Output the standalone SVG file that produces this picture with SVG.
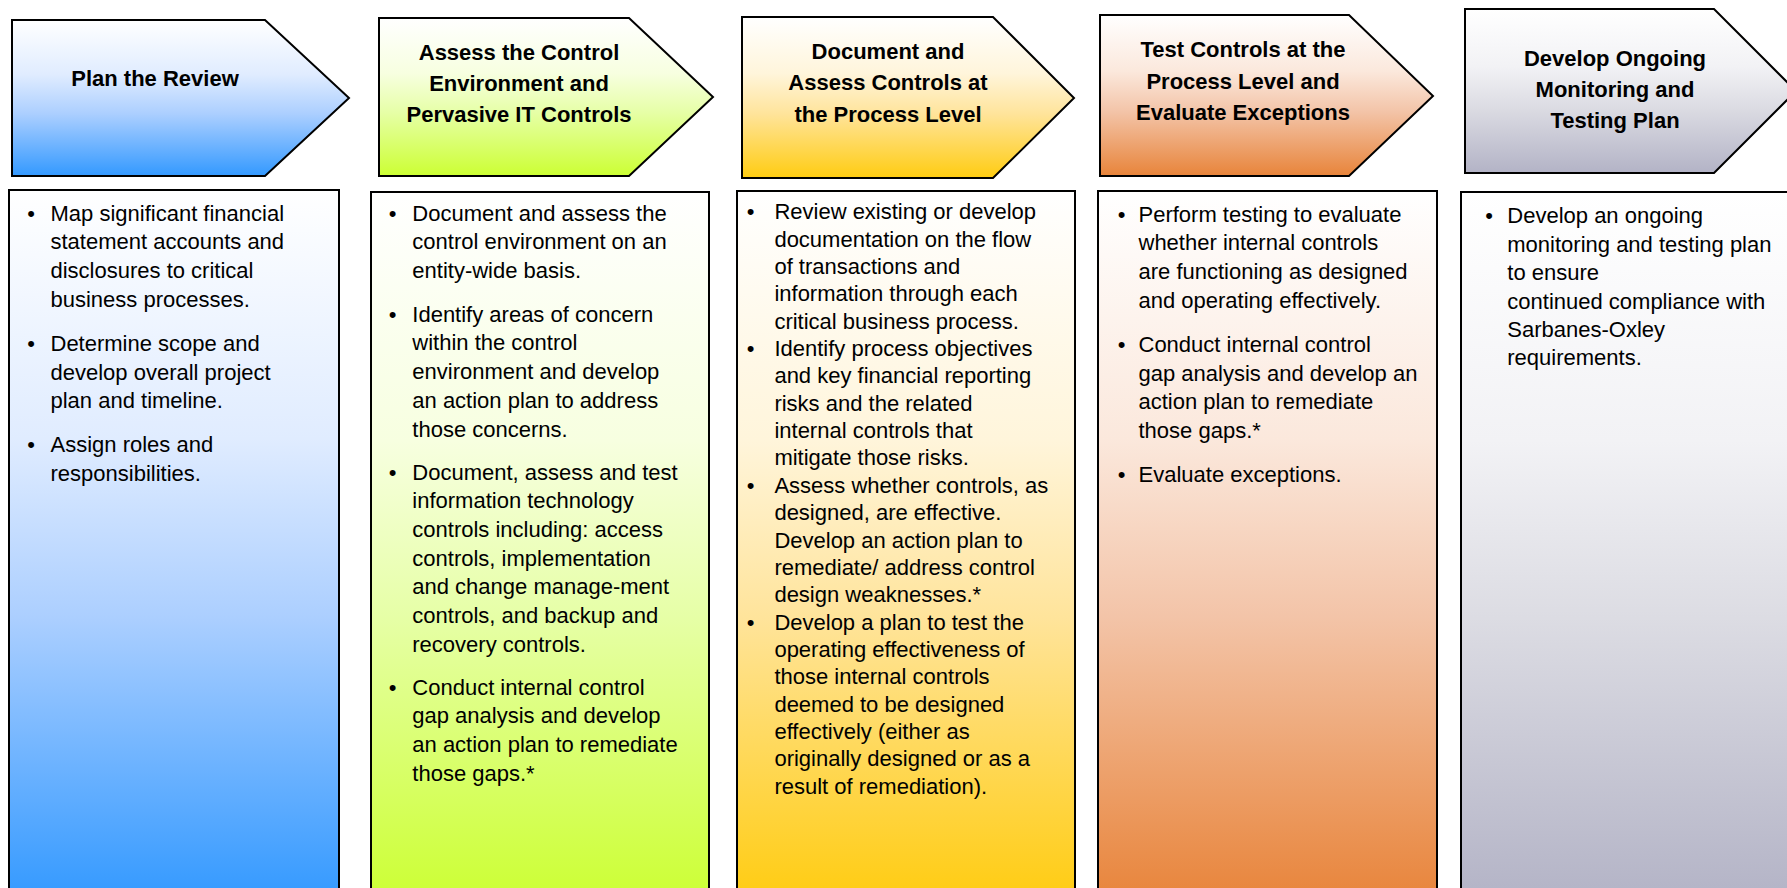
<svg xmlns="http://www.w3.org/2000/svg" width="1787" height="888" viewBox="0 0 1787 888">
<defs>
<linearGradient id="g1" x1="0" y1="0" x2="0" y2="1"><stop offset="0" stop-color="#ffffff"/><stop offset="0.35" stop-color="#e0ecff"/><stop offset="0.6" stop-color="#accfff"/><stop offset="1" stop-color="#3399ff"/></linearGradient>
<linearGradient id="g2" x1="0" y1="0" x2="0" y2="1"><stop offset="0" stop-color="#ffffff"/><stop offset="0.35" stop-color="#f7ffe0"/><stop offset="0.6" stop-color="#e6ffa6"/><stop offset="1" stop-color="#ccff33"/></linearGradient>
<linearGradient id="g3" x1="0" y1="0" x2="0" y2="1"><stop offset="0" stop-color="#ffffff"/><stop offset="0.35" stop-color="#fff5db"/><stop offset="0.6" stop-color="#ffe49b"/><stop offset="1" stop-color="#ffcc11"/></linearGradient>
<linearGradient id="g4" x1="0" y1="0" x2="0" y2="1"><stop offset="0" stop-color="#ffffff"/><stop offset="0.35" stop-color="#fbe8dc"/><stop offset="0.6" stop-color="#f3c4a8"/><stop offset="1" stop-color="#e8843a"/></linearGradient>
<linearGradient id="g5" x1="0" y1="0" x2="0" y2="1"><stop offset="0" stop-color="#ffffff"/><stop offset="0.35" stop-color="#f2f2f5"/><stop offset="0.6" stop-color="#dcdce3"/><stop offset="1" stop-color="#b3b3c6"/></linearGradient>
</defs>
<style>
.shape{stroke:#000;stroke-width:2;stroke-linejoin:miter}
.title{font-family:"Liberation Sans",Arial,sans-serif;font-weight:bold;font-size:22px;fill:#000;text-anchor:middle}
.body{font-family:"Liberation Sans",Arial,sans-serif;font-size:22px;fill:#000}
.bul{font-family:"Liberation Sans",Arial,sans-serif;font-size:22px;fill:#000;text-anchor:middle}
</style>
<rect x="0" y="0" width="1787" height="888" fill="#ffffff"/>

<g id="header-1">
<polygon class="shape" fill="url(#g1)" points="12,20 265,20 349,98 265,176 12,176"/>
<text class="title" x="155" y="86">Plan the Review</text>
</g>
<g id="header-2">
<polygon class="shape" fill="url(#g2)" points="379,18 629,18 713,97 629,176 379,176"/>
<text class="title" x="519" y="60">Assess the Control</text>
<text class="title" x="519" y="91">Environment and</text>
<text class="title" x="519" y="122">Pervasive IT Controls</text>
</g>
<g id="header-3">
<polygon class="shape" fill="url(#g3)" points="742,17 993,17 1074,98 993,178 742,178"/>
<text class="title" x="888" y="59">Document and</text>
<text class="title" x="888" y="90">Assess Controls at</text>
<text class="title" x="888" y="122">the Process Level</text>
</g>
<g id="header-4">
<polygon class="shape" fill="url(#g4)" points="1100,15 1349,15 1433,96 1349,176 1100,176"/>
<text class="title" x="1243" y="57">Test Controls at the</text>
<text class="title" x="1243" y="88.5">Process Level and</text>
<text class="title" x="1243" y="119.5">Evaluate Exceptions</text>
</g>
<g id="header-5">
<polygon class="shape" fill="url(#g5)" points="1465,9 1714,9 1796,91 1714,173 1465,173"/>
<text class="title" x="1615" y="66">Develop Ongoing</text>
<text class="title" x="1615" y="97">Monitoring and</text>
<text class="title" x="1615" y="128">Testing Plan</text>
</g>

<g id="details-1">
<rect class="shape" fill="url(#g1)" x="9" y="190" width="330" height="710"/>
<text class="bul" x="31" y="220.7">•</text>
<text class="body" x="50.5" y="220.7">Map significant financial</text>
<text class="body" x="50.5" y="249.4">statement accounts and</text>
<text class="body" x="50.5" y="278.1">disclosures to critical</text>
<text class="body" x="50.5" y="306.8">business processes.</text>
<text class="bul" x="31" y="350.8">•</text>
<text class="body" x="50.5" y="350.8">Determine scope and</text>
<text class="body" x="50.5" y="379.5">develop overall project</text>
<text class="body" x="50.5" y="408.2">plan and timeline.</text>
<text class="bul" x="31" y="452.2">•</text>
<text class="body" x="50.5" y="452.2">Assign roles and</text>
<text class="body" x="50.5" y="480.9">responsibilities.</text>
</g>

<g id="details-2">
<rect class="shape" fill="url(#g2)" x="371" y="192" width="338" height="710"/>
<text class="bul" x="392.6" y="220.7">•</text>
<text class="body" x="412.3" y="220.7">Document and assess the</text>
<text class="body" x="412.3" y="249.4">control environment on an</text>
<text class="body" x="412.3" y="278.1">entity-wide basis.</text>
<text class="bul" x="392.6" y="321.7">•</text>
<text class="body" x="412.3" y="321.7">Identify areas of concern</text>
<text class="body" x="412.3" y="350.4">within the control</text>
<text class="body" x="412.3" y="379.1">environment and develop</text>
<text class="body" x="412.3" y="407.8">an action plan to address</text>
<text class="body" x="412.3" y="436.5">those concerns.</text>
<text class="bul" x="392.6" y="479.5">•</text>
<text class="body" x="412.3" y="479.5">Document, assess and test</text>
<text class="body" x="412.3" y="508.2">information technology</text>
<text class="body" x="412.3" y="536.9">controls including: access</text>
<text class="body" x="412.3" y="565.6">controls, implementation</text>
<text class="body" x="412.3" y="594.3">and change manage-ment</text>
<text class="body" x="412.3" y="623">controls, and backup and</text>
<text class="body" x="412.3" y="651.7">recovery controls.</text>
<text class="bul" x="392.6" y="694.7">•</text>
<text class="body" x="412.3" y="694.7">Conduct internal control</text>
<text class="body" x="412.3" y="723.4">gap analysis and develop</text>
<text class="body" x="412.3" y="752.1">an action plan to remediate</text>
<text class="body" x="412.3" y="780.8">those gaps.*</text>
</g>

<g id="details-3">
<rect class="shape" fill="url(#g3)" x="737" y="191" width="338" height="710"/>
<text class="bul" x="750.6" y="219.3">•</text>
<text class="body" x="774.4" y="219.3">Review existing or develop</text>
<text class="body" x="774.4" y="246.65">documentation on the flow</text>
<text class="body" x="774.4" y="274">of transactions and</text>
<text class="body" x="774.4" y="301.35">information through each</text>
<text class="body" x="774.4" y="328.7">critical business process.</text>
<text class="bul" x="750.6" y="356.05">•</text>
<text class="body" x="774.4" y="356.05">Identify process objectives</text>
<text class="body" x="774.4" y="383.4">and key financial reporting</text>
<text class="body" x="774.4" y="410.75">risks and the related</text>
<text class="body" x="774.4" y="438.1">internal controls that</text>
<text class="body" x="774.4" y="465.45">mitigate those risks.</text>
<text class="bul" x="750.6" y="492.8">•</text>
<text class="body" x="774.4" y="492.8">Assess whether controls, as</text>
<text class="body" x="774.4" y="520.15">designed, are effective.</text>
<text class="body" x="774.4" y="547.5">Develop an action plan to</text>
<text class="body" x="774.4" y="574.85">remediate/ address control</text>
<text class="body" x="774.4" y="602.2">design weaknesses.*</text>
<text class="bul" x="750.6" y="629.55">•</text>
<text class="body" x="774.4" y="629.55">Develop a plan to test the</text>
<text class="body" x="774.4" y="656.9">operating effectiveness of</text>
<text class="body" x="774.4" y="684.25">those internal controls</text>
<text class="body" x="774.4" y="711.6">deemed to be designed</text>
<text class="body" x="774.4" y="738.95">effectively (either as</text>
<text class="body" x="774.4" y="766.3">originally designed or as a</text>
<text class="body" x="774.4" y="793.65">result of remediation).</text>
</g>

<g id="details-4">
<rect class="shape" fill="url(#g4)" x="1098" y="191" width="339" height="710"/>
<text class="bul" x="1121.5" y="221.7">•</text>
<text class="body" x="1138.5" y="221.7">Perform testing to evaluate</text>
<text class="body" x="1138.5" y="250.4">whether internal controls</text>
<text class="body" x="1138.5" y="279.1">are functioning as designed</text>
<text class="body" x="1138.5" y="307.8">and operating effectively.</text>
<text class="bul" x="1121.5" y="351.8">•</text>
<text class="body" x="1138.5" y="351.8">Conduct internal control</text>
<text class="body" x="1138.5" y="380.5">gap analysis and develop an</text>
<text class="body" x="1138.5" y="409.2">action plan to remediate</text>
<text class="body" x="1138.5" y="437.9">those gaps.*</text>
<text class="bul" x="1121.5" y="481.9">•</text>
<text class="body" x="1138.5" y="481.9">Evaluate exceptions.</text>
</g>

<g id="details-5">
<rect class="shape" fill="url(#g5)" x="1461" y="192" width="340" height="710"/>
<text class="bul" x="1489" y="223.3">•</text>
<text class="body" x="1507.3" y="223.3">Develop an ongoing</text>
<text class="body" x="1507.3" y="251.7">monitoring and testing plan</text>
<text class="body" x="1507.3" y="280.1">to ensure</text>
<text class="body" x="1507.3" y="308.5">continued compliance with</text>
<text class="body" x="1507.3" y="336.9">Sarbanes-Oxley</text>
<text class="body" x="1507.3" y="365.3">requirements.</text>
</g>

<g id="connectors"></g>
</svg>
